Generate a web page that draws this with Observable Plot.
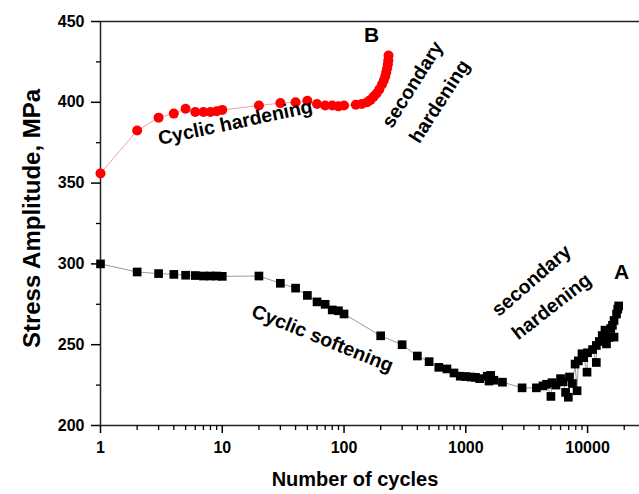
<!DOCTYPE html>
<html>
<head>
<meta charset="utf-8">
<script src="https://cdn.jsdelivr.net/npm/d3@7"></script>
<script src="https://cdn.jsdelivr.net/npm/@observablehq/plot@0.6"></script>
<style>
  html, body { margin: 0; padding: 0; background: #fff; }
  #chart { width: 639px; height: 494px; }
</style>
</head>
<body>
<div id="chart"></div>
<script>
// Curve A (black squares): cyclic softening then secondary hardening
const cyclesA = [1, 2, 3, 4, 5, 6, 7, 8, 9, 10, 20, 30, 40, 50, 60, 70, 80, 90, 100,
  200, 300, 400, 500, 600, 700, 800, 900, 1000, 1100, 1200, 1300, 1500, 1550, 1600, 1700,
  2000, 2900, 3800, 4300, 4600, 5000, 5100, 5500, 6000, 6300, 6600, 6950, 7100, 7500,
  7900, 8200, 8400, 9000, 9300, 9900, 10000, 11000, 11800, 11800, 12500, 13200, 13900,
  14300, 15000, 15500, 16000, 16500, 16500, 17300, 17700, 18000];
const stressA = [300, 295, 294, 293.5, 293, 292.8, 292.5, 292.5, 292.5, 292.3, 292.5, 288, 285, 280.5, 276.5, 275, 271.5, 271, 269,
  255.5, 250, 243, 239.5, 236, 235, 232.5, 230.5, 230.3, 230, 229.8, 229, 230.5, 227.5, 231, 228,
  226.8, 223.3, 223.3, 224.5, 225.5, 218, 226.5, 225, 229, 227, 220.5, 217.5, 230, 226,
  238, 221.5, 240, 244.4, 242, 233, 245, 247, 239, 249.5, 252, 255.7, 259,
  250.5, 254.5, 260, 262, 254.7, 265, 269, 272, 274];

// Curve B (red circles): cyclic hardening then secondary hardening
const cyclesB = [1, 2, 3, 4, 5, 6, 7, 8, 9, 10, 20, 30, 40, 50, 60, 70, 80, 90, 100,
  125, 140, 155, 165, 175, 185, 195, 205, 212, 218, 222, 226, 229, 231, 232];
const stressB = [356, 382.5, 390.5, 393, 396, 394, 394, 394, 394.5, 395.3, 398, 399.5, 400, 401, 399, 398, 398, 397.5, 398,
  398.5, 399, 400, 401.5, 403.5, 405.5, 408, 411, 413.5, 416, 418.5, 421, 423.5, 426, 429];

// Axis ticks
const xMajor = [1, 10, 100, 1000, 10000];
const xMinor = [2,3,4,5,6,7,8,9, 20,30,40,50,60,70,80,90, 200,300,400,500,600,700,800,900,
  2000,3000,4000,5000,6000,7000,8000,9000, 20000];
const yMajor = [200, 250, 300, 350, 400, 450];
const yMinor = [225, 275, 325, 375, 425];

// Annotations
const annoText = ["Cyclic hardening", "secondary", "hardening", "Cyclic softening", "secondary", "hardening"];
const annoX = [12.8, 365, 609, 66.6, 3467, 5060];
const annoY = [387.5, 411, 400.5, 253.8, 289.7, 273.6];
const annoRotate = [-12, -58, -57, 22, -41, -38];
const letterText = ["B", "A"];
const letterX = [168, 19000];
const letterY = [441.3, 294.7];

const dataA = cyclesA.map((c, i) => ({cycles: c, stress: stressA[i]}));
const dataB = cyclesB.map((c, i) => ({cycles: c, stress: stressB[i]}));
const annos = annoText.map((t, i) => ({text: t, x: annoX[i], y: annoY[i], rotate: annoRotate[i]}));
const letters = letterText.map((t, i) => ({text: t, x: letterX[i], y: letterY[i]}));

const chart = Plot.plot({
  width: 639,
  height: 494,
  marginLeft: 100,
  marginRight: 0,
  marginTop: 21,
  marginBottom: 69,
  x: {type: "log", domain: [1, 26700], label: null},
  y: {domain: [200, 450], label: null},
  style: {fontFamily: "'Liberation Sans', Arial, sans-serif", background: "#fff", color: "#000"},
  marks: [
    Plot.ruleY([450], {stroke: "#222", strokeWidth: 1.5}),
    Plot.ruleY([200], {stroke: "#222", strokeWidth: 1.5}),
    Plot.ruleX([1], {stroke: "#222", strokeWidth: 1.5}),
    Plot.axisX({ticks: xMajor, tickSize: 8, tickPadding: 8, fontSize: 16, fontWeight: "bold",
      tickFormat: d => String(d), strokeWidth: 1.5, label: null}),
    Plot.axisX({ticks: xMinor, tickSize: 5, tickFormat: () => "", strokeWidth: 1.3, label: null}),
    Plot.axisY({ticks: yMajor, tickSize: 9, tickPadding: 7, fontSize: 16, fontWeight: "bold",
      tickFormat: d => String(d), strokeWidth: 1.5, label: null}),
    Plot.axisY({ticks: yMinor, tickSize: 4, tickFormat: () => "", strokeWidth: 1.3, label: null}),
    Plot.line(dataA, {x: "cycles", y: "stress", stroke: "#9a9a9a", strokeWidth: 1}),
    Plot.dot(dataA, {x: "cycles", y: "stress", symbol: "square", r: 4.9, fill: "#000", stroke: "none"}),
    Plot.line(dataB, {x: "cycles", y: "stress", stroke: "#f4a0a0", strokeWidth: 1}),
    Plot.dot(dataB, {x: "cycles", y: "stress", r: 5, fill: "#ff0000", stroke: "none"}),
    Plot.text(annos, {x: "x", y: "y", text: "text", rotate: "rotate", fontSize: 19.5, fontWeight: "bold", fill: "#000"}),
    Plot.text(letters, {x: "x", y: "y", text: "text", fontSize: 21, fontWeight: "bold", fill: "#000"}),
    Plot.text(["Stress Amplitude, MPa"], {frameAnchor: "left", textAnchor: "middle", dx: -68, dy: -5, rotate: -90,
      fontSize: 24, fontWeight: "bold", fill: "#000"}),
    Plot.text(["Number of cycles"], {frameAnchor: "bottom", textAnchor: "middle", dx: -15, dy: 60,
      fontSize: 20, fontWeight: "bold", fill: "#000"})
  ]
});
document.getElementById("chart").appendChild(chart);
</script>
</body>
</html>
